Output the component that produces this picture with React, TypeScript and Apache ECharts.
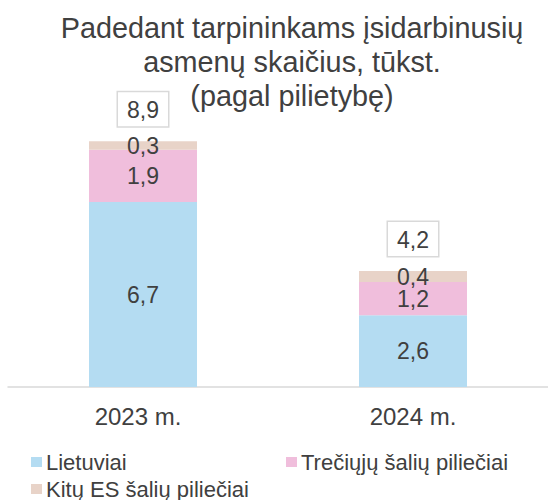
import React, { useEffect, useRef } from "react";
import * as echarts from "echarts";

const categories = ["2023 m.", "2024 m."];
const lietuviai = [6.7, 2.6];
const treciuju = [1.9, 1.2];
const kituES = [0.3, 0.4];
const totals = [8.9, 4.2];
const seriesNames = ["Lietuviai", "Trečiųjų šalių piliečiai", "Kitų ES šalių piliečiai"];
const colors = ["#b4dcf2", "#f0bedc", "#e8d3c8"];

const FONT = "Liberation Sans, Arial, sans-serif";
const fmt = (p: any) => String(p.value).replace(".", ",");

export default function App() {
  const ref = useRef<HTMLDivElement>(null);
  useEffect(() => {
    document.body.style.margin = "0";
    if (!ref.current) return;
    const chart = echarts.init(ref.current, null, { renderer: "svg" });
    const segLabel = {
      show: true,
      position: "inside" as const,
      formatter: fmt,
      color: "#404040",
      fontSize: 23,
      fontFamily: FONT,
    };
    const legendCommon = {
      itemWidth: 11,
      itemHeight: 10,
      itemGap: 6,
      icon: "rect",
      textStyle: { color: "#404040", fontSize: 22, fontFamily: FONT, padding: [0, 0, 0, -1] },
    };
    const catData = categories.map((c, i) =>
      i === 0 ? { value: c, textStyle: { padding: [0, 10, 0, 0] } } : { value: c }
    );
    chart.setOption({
      animation: false,
      title: {
        text: "Padedant tarpininkams įsidarbinusių\nasmenų skaičius, tūkst.\n(pagal pilietybę)",
        left: 287,
        textAlign: "center",
        top: 6,
        textStyle: {
          color: "#404040",
          fontSize: 28.8,
          fontWeight: "normal",
          fontFamily: FONT,
          lineHeight: 34,
        },
      },
      legend: [
        { ...legendCommon, data: [seriesNames[0]], left: 26, top: 446 },
        { ...legendCommon, data: [seriesNames[1]], left: 281, top: 446 },
        { ...legendCommon, data: [seriesNames[2]], left: 26, top: 473 },
      ],
      grid: { left: 8, right: -2, top: 111, bottom: 113, containLabel: false },
      xAxis: {
        type: "category",
        data: catData,
        axisLine: { lineStyle: { color: "#d9d9d9", width: 1.5 } },
        axisTick: { show: false },
        axisLabel: { color: "#404040", fontSize: 24, fontFamily: FONT, margin: 17 },
      },
      yAxis: {
        type: "value",
        min: 0,
        max: 10,
        show: false,
        splitLine: { show: false },
      },
      series: [
        {
          name: seriesNames[0],
          type: "bar",
          stack: "a",
          data: lietuviai,
          barWidth: "40%",
          itemStyle: { color: colors[0] },
          label: segLabel,
        },
        {
          name: seriesNames[1],
          type: "bar",
          stack: "a",
          data: treciuju,
          itemStyle: { color: colors[1] },
          label: segLabel,
        },
        {
          name: seriesNames[2],
          type: "bar",
          stack: "a",
          data: kituES,
          itemStyle: { color: colors[2] },
          label: segLabel,
        },
        {
          name: "Iš viso",
          type: "scatter",
          data: totals,
          symbolSize: 0,
          itemStyle: { color: "#ffffff", opacity: 1 },
          label: {
            show: true,
            position: "top",
            distance: 15,
            formatter: fmt,
            color: "#404040",
            opacity: 1,
            fontSize: 23,
            fontFamily: FONT,
            borderColor: "#d9d9d9",
            borderWidth: 1.5,
            padding: [6, 9, 5, 9],
            backgroundColor: "#fff",
          },
          silent: true,
        },
      ],
    });
    return () => chart.dispose();
  }, []);
  return <div ref={ref} style={{ width: 548, height: 500 }} />;
}
